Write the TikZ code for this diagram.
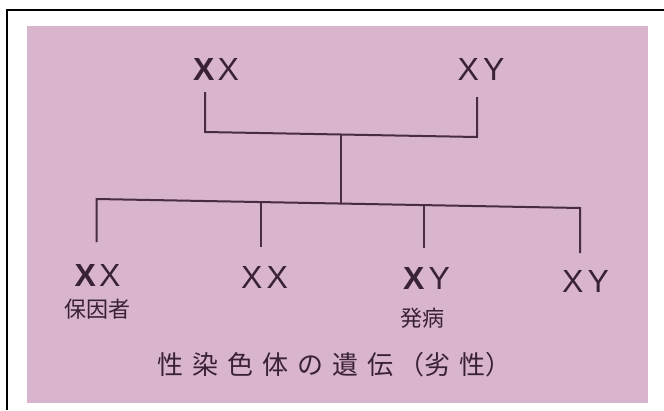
\documentclass[tikz,border=0pt]{standalone}
\usepackage{fontspec}
\newfontfamily\lat{Liberation Sans}
\newfontfamily\cjk{Noto Sans CJK JP}
\definecolor{bgpink}{RGB}{216,180,205}
\definecolor{ink}{RGB}{58,34,54}
\definecolor{lineink}{RGB}{72,44,66}
\begin{document}
\begin{tikzpicture}[x=1pt,y=-1pt,
  geno/.style={inner sep=0pt,text=ink,font=\lat\fontsize{32}{32}\selectfont},
  lab/.style={inner sep=0pt,text=ink,font=\cjk\fontsize{22}{22}\selectfont},
  captiontext/.style={inner sep=0pt,text=ink,font=\cjk\fontsize{26}{26}\selectfont},
  conn/.style={draw=lineink,line width=2pt,line join=miter}]
\useasboundingbox (0,0) rectangle (664,410);
% frame and background
\fill[bgpink] (27,26) rectangle (648,403);
\draw[black,line width=2.2pt] (664,10) -- (7,10) -- (7,410);
% genotypes
\node[geno] (pxx) at (216,69) {\textbf{X}\hspace{3pt}X};
\node[geno] (pxy) at (481,69) {X\hspace{4pt}Y};
\node[geno] (c1) at (97.5,275) {\textbf{X}\hspace{3pt}X};
\node[geno] (c2) at (264.5,277) {X\hspace{4pt}X};
\node[geno] (c3) at (426.5,278) {\textbf{X}\hspace{4pt}Y};
\node[geno] (c4) at (585.5,281) {X\hspace{4pt}Y};
\node[lab] (l1) at (97,309) {保因者};
\node[lab] (l3) at (422,318) {発病};
\node[captiontext] (capt) at (334.5,365) {性\hspace{9pt}染\hspace{9pt}色\hspace{9pt}体\hspace{9pt}の\hspace{9pt}遺\hspace{9pt}伝\hspace{5pt}（劣\hspace{9pt}性）};
% connectors
\coordinate (a1) at (205,92);
\coordinate (a2) at (205,132);
\coordinate (b2) at (477,137);
\coordinate (b1) at (477,97);
\coordinate (m1) at (341,134.5);
\coordinate (m2) at (341,203.5);
\coordinate (k1) at (96.6,199);
\coordinate (k2) at (261,202);
\coordinate (k3) at (423.5,205);
\coordinate (k4) at (580,208);
\coordinate (d1) at (96.6,242);
\coordinate (d2) at (261,247);
\coordinate (d3) at (423.5,248);
\coordinate (d4) at (580,253);
\draw[conn] (a1) -- (a2) -- (b2) -- (b1);
\draw[conn] (m1) -- (m2);
\draw[conn] (d1) -- (k1) -- (k4) -- (d4);
\draw[conn] (k2) -- (d2);
\draw[conn] (k3) -- (d3);
\end{tikzpicture}
\end{document}
